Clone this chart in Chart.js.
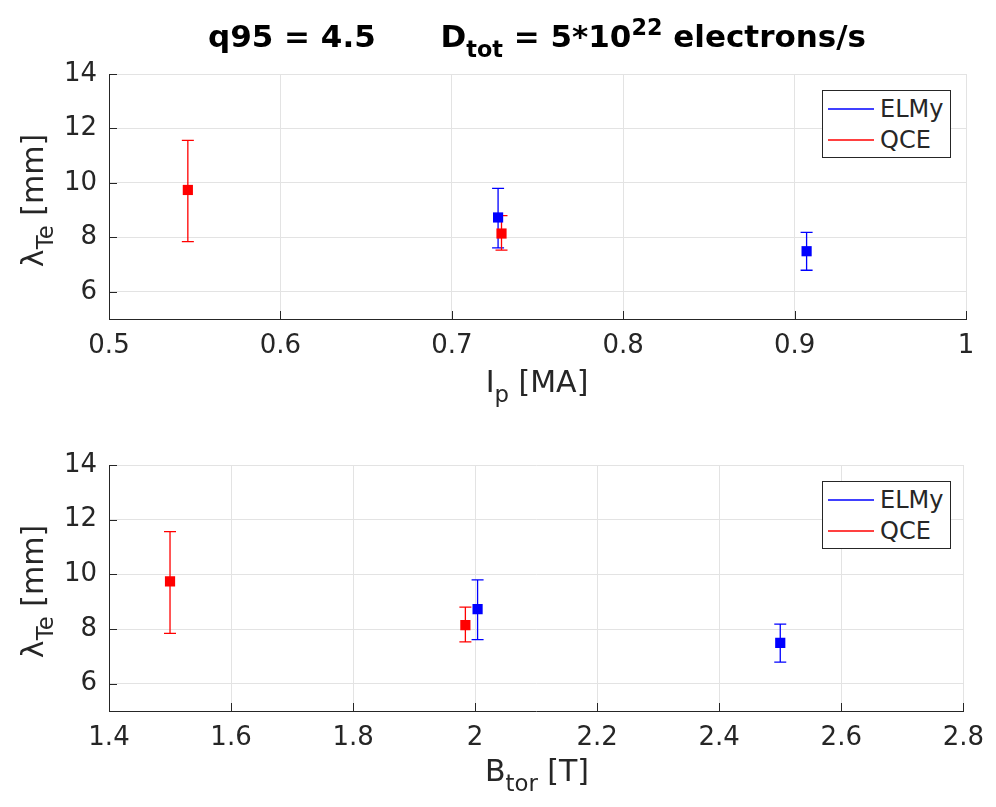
<!DOCTYPE html>
<html>
<head>
<meta charset="utf-8">
<script src="https://cdn.jsdelivr.net/npm/chart.js@4.4.1/dist/chart.umd.min.js"></script>
<style>
  html, body { margin: 0; padding: 0; background: #fff; }
  #wrap { position: relative; width: 996px; height: 807px; font-family: "DejaVu Sans", sans-serif; color: #262626; }
  canvas { position: absolute; left: 0; }
  #title { position: absolute; left: 109px; width: 856px; top: 18px; text-align: center; font-weight: bold; font-size: 31px; color: #000; white-space: nowrap; }
  #title sub, #title sup { font-size: 72%; }
  .xlab { position: absolute; left: 109px; width: 856px; text-align: center; font-size: 30px; white-space: nowrap; }
  .ylab { position: absolute; width: 300px; text-align: center; font-size: 30px; white-space: nowrap; transform: rotate(-90deg); transform-origin: center center; }
  sub { font-size: 76%; vertical-align: -0.45em; line-height: 0; }
  sup { vertical-align: 0.55em; line-height: 0; }
  .legend { position: absolute; left: 822px; width: 127px; background: #fff; border: 1px solid #262626; font-size: 24px; padding: 2px 0; }
  .legend div { display: flex; align-items: center; height: 31px; }
  .legend span.sw { display: inline-block; width: 46px; height: 2px; margin: 0 6px 0 5px; }
</style>
</head>
<body>
<div id="wrap">
  <canvas id="ipChart" width="996" height="400" style="top:0"></canvas>
  <canvas id="btorChart" width="996" height="407" style="top:400px"></canvas>
  <div id="title">q95 = 4.5&nbsp;&nbsp;&nbsp;&nbsp;&nbsp;&nbsp;D<sub>tot</sub> = 5*10<sup>22</sup> electrons/s</div>
  <div class="xlab" style="top:364px">I<sub>p</sub> [MA]</div>
  <div class="xlab" style="top:753px">B<sub>tor</sub> [T]</div>
  <div class="ylab" style="left:-118px; top:183px">λ<sub>Te</sub> [mm]</div>
  <div class="ylab" style="left:-118px; top:574px">λ<sub>Te</sub> [mm]</div>
  <div class="legend" id="legTop" style="top:90px"></div>
  <div class="legend" id="legBot" style="top:481px"></div>
</div>
<script>
// series
const seriesNames = ['ELMy', 'QCE'];
const seriesColors = ['#0000ff', '#ff0000'];

// lambda_Te [mm], same measurements in both panels
const lambdaElmy = [8.73, 7.49];
const lambdaElmyHi = [9.80, 8.18];
const lambdaElmyLo = [7.61, 6.79];
const lambdaQce = [9.74, 8.14];
const lambdaQceHi = [11.56, 8.80];
const lambdaQceLo = [7.84, 7.53];

// x positions
const ipElmy = [0.727, 0.907];
const ipQce = [0.546, 0.729];
const btorElmy = [2.004, 2.5];
const btorQce = [1.5, 1.984];

// ticks
const yTicks = [6, 8, 10, 12, 14];
const ipTicks = [0.5, 0.6, 0.7, 0.8, 0.9, 1];
const btorTicks = [1.4, 1.6, 1.8, 2, 2.2, 2.4, 2.6, 2.8];

const GRID = '#e3e3e3';
const AXIS = '#262626';

function points(xs, ys, lo, hi) {
    return xs.map((x, i) => ({ x: x, y: ys[i], yMin: lo[i], yMax: hi[i] }));
}

const errorBars = {
    id: 'errorBars',
    beforeDatasetsDraw(chart) {
        const { ctx, scales: { x, y } } = chart;
        ctx.save();
        chart.data.datasets.forEach(ds => {
            ctx.strokeStyle = ds.backgroundColor;
            ctx.lineWidth = 1.3;
            ds.data.forEach(p => {
                const px = x.getPixelForValue(p.x);
                const top = y.getPixelForValue(p.yMax);
                const bot = y.getPixelForValue(p.yMin);
                ctx.beginPath();
                ctx.moveTo(px, top); ctx.lineTo(px, bot);
                ctx.moveTo(px - 6, top); ctx.lineTo(px + 6, top);
                ctx.moveTo(px - 6, bot); ctx.lineTo(px + 6, bot);
                ctx.stroke();
            });
        });
        ctx.restore();
    },
    afterDraw(chart) {
        // MATLAB style inward tick marks
        const { ctx, chartArea: a, scales: { x, y } } = chart;
        ctx.save();
        ctx.strokeStyle = AXIS;
        ctx.lineWidth = 1;
        ctx.beginPath();
        y.ticks.forEach(t => {
            const py = Math.round(y.getPixelForValue(t.value)) + 0.5;
            ctx.moveTo(a.left, py); ctx.lineTo(a.left + 8, py);
        });
        x.ticks.forEach(t => {
            const px = Math.round(x.getPixelForValue(t.value)) + 0.5;
            ctx.moveTo(px, a.bottom); ctx.lineTo(px, a.bottom - 8);
        });
        ctx.stroke();
        ctx.restore();
    }
};

function makeChart(id, xsElmy, xsQce, xTicks, xMin, xMax, topPad, xAxisH) {
    const ctx = document.getElementById(id).getContext('2d');
    return new Chart(ctx, {
        type: 'scatter',
        data: {
            datasets: [
                { label: seriesNames[0], data: points(xsElmy, lambdaElmy, lambdaElmyLo, lambdaElmyHi),
                  backgroundColor: seriesColors[0], borderColor: seriesColors[0] },
                { label: seriesNames[1], data: points(xsQce, lambdaQce, lambdaQceLo, lambdaQceHi),
                  backgroundColor: seriesColors[1], borderColor: seriesColors[1] }
            ]
        },
        options: {
            responsive: false,
            animation: false,
            events: [],
            layout: { padding: { top: topPad, right: 30, left: 0, bottom: 0 } },
            elements: { point: { pointStyle: 'rect', radius: 7.2, borderWidth: 0 } },
            scales: {
                x: {
                    type: 'linear', min: xMin, max: xMax,
                    afterBuildTicks: s => { s.ticks = xTicks.map(v => ({ value: v })); },
                    afterFit: s => { s.height = xAxisH; },
                    grid: { color: GRID, drawTicks: false },
                    border: { display: true, color: AXIS, width: 1 },
                    ticks: { color: AXIS, padding: 12, maxRotation: 0,
                             font: { family: 'DejaVu Sans', size: 26 },
                             callback: v => String(v) }
                },
                y: {
                    type: 'linear', min: 5, max: 14,
                    afterBuildTicks: s => { s.ticks = yTicks.map(v => ({ value: v })); },
                    afterFit: s => { s.width = 109; },
                    grid: { color: GRID, drawTicks: false },
                    border: { display: true, color: AXIS, width: 1 },
                    ticks: { color: AXIS, padding: 12,
                             font: { family: 'DejaVu Sans', size: 26 },
                             callback: v => String(v) }
                }
            },
            plugins: { legend: { display: false }, tooltip: { enabled: false } }
        },
        plugins: [errorBars]
    });
}

makeChart('ipChart', ipElmy, ipQce, ipTicks, 0.5, 1, 74, 81);
makeChart('btorChart', btorElmy, btorQce, btorTicks, 1.4, 2.8, 65, 96);

['legTop', 'legBot'].forEach(id => {
    const el = document.getElementById(id);
    seriesNames.forEach((name, i) => {
        const row = document.createElement('div');
        const sw = document.createElement('span');
        sw.className = 'sw';
        sw.style.background = seriesColors[i];
        sw.style.opacity = '0.75';
        row.appendChild(sw);
        row.appendChild(document.createTextNode(name));
        el.appendChild(row);
    });
});
</script>
</body>
</html>
